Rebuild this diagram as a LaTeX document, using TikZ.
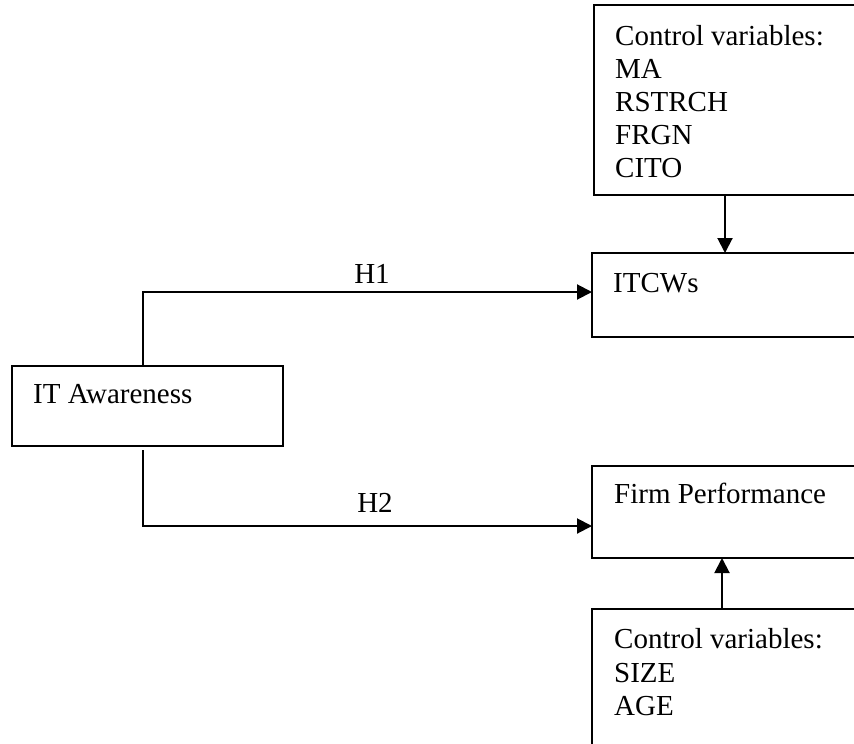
\documentclass[tikz,border=0pt]{standalone}
\usepackage{fontspec}
\setmainfont{Liberation Serif}
\usetikzlibrary{arrows.meta}
\begin{document}
\begin{tikzpicture}[x=1pt,y=-1pt,
  box/.style={draw, line width=2pt, inner sep=0pt, outer sep=0pt, anchor=north west, rectangle},
  txt/.style={inner sep=0pt, anchor=base west, font=\fontsize{29}{33}\selectfont},
  lbl/.style={inner sep=0pt, anchor=base, font=\fontsize{29}{33}\selectfont},
  arr/.style={line width=2pt, -{Triangle[length=15pt,width=15pt]}},
  conn/.style={line width=2pt}]
\useasboundingbox (0,0) rectangle (854,744);
\clip (0,0) rectangle (854,744);
\fill[white] (0,0) rectangle (854,744);
% boxes
\node[box, minimum width=300pt, minimum height=190pt] (ctrl1) at (594,5) {};
\node[box, minimum width=300pt, minimum height=84pt] (itcw) at (592,253) {};
\node[box, minimum width=271pt, minimum height=80pt] (aware) at (12,366) {};
\node[box, minimum width=300pt, minimum height=92pt] (firm) at (592,466) {};
\node[box, minimum width=300pt, minimum height=200pt] (ctrl2) at (592,609) {};
% texts
\node[txt] (c1a) at (615,45) {Control variables:};
\node[txt] (c1b) at (615,78) {MA};
\node[txt] (c1c) at (615,111) {RSTRCH};
\node[txt] (c1d) at (615,144) {FRGN};
\node[txt] (c1e) at (615,177) {CITO};
\node[txt] (titcw) at (613,292) {ITCWs};
\node[txt] (taware) at (33,403) {IT Awareness};
\node[txt] (tfirm) at (614,503) {Firm Performance};
\node[txt] (c2a) at (614,648) {Control variables:};
\node[txt] (c2b) at (614,682) {SIZE};
\node[txt] (c2c) at (614,715) {AGE};
% connectors
\coordinate (ax1) at (725,0);
\draw[arr] (ctrl1.south -| ax1) -- (itcw.north -| ax1);
\coordinate (ax2) at (722,0);
\draw[arr] (ctrl2.north -| ax2) -- (firm.south -| ax2);
\coordinate (h1) at (143,292);
\draw[arr] (aware.north -| h1) |- (itcw.west |- h1);
\coordinate (h2s) at (143,450);
\coordinate (h2) at (143,526);
\draw[arr] (h2s) |- (firm.west |- h2);
\node[lbl] (lh1) at (372,283) {H1};
\node[lbl] (lh2) at (375,512) {H2};
\end{tikzpicture}
\end{document}
